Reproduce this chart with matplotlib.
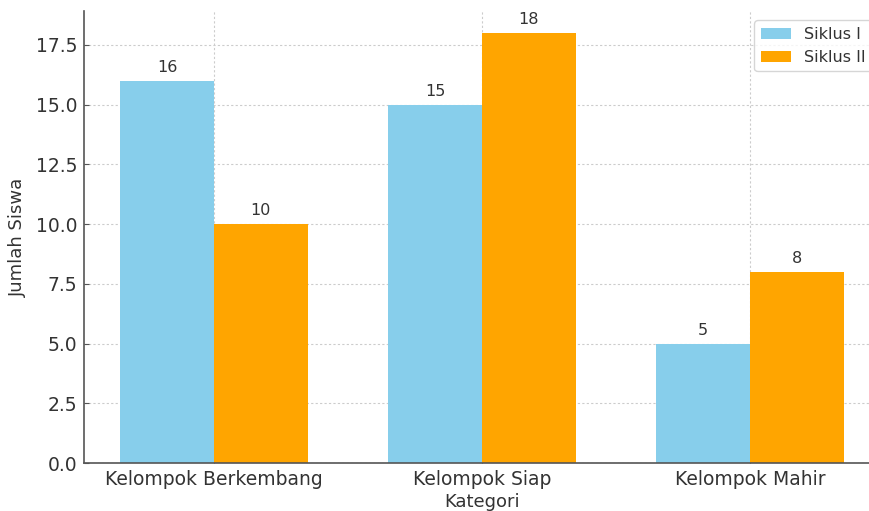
import matplotlib
matplotlib.use("Agg")
import matplotlib.pyplot as plt
import numpy as np

categories = ["Kelompok Berkembang", "Kelompok Siap", "Kelompok Mahir"]
siklus1 = [16, 15, 5]
siklus2 = [10, 18, 8]
series_names = ["Siklus I", "Siklus II"]

plt.rcParams['font.family'] = ['DejaVu Sans']
fig = plt.figure(figsize=(8.69, 5.11), dpi=100)
ax = fig.add_axes([84/869, 48/511, (880-84)/869, (499.5-48)/511])

x = np.arange(len(categories))
w = 0.35
b1 = ax.bar(x - w/2, siklus1, w, color='#87CEEB', label=series_names[0])
b2 = ax.bar(x + w/2, siklus2, w, color='#FFA500', label=series_names[1])

for bars in (b1, b2):
    for r in bars:
        ax.text(r.get_x() + r.get_width()/2, r.get_height() + 0.25, f"{int(r.get_height())}",
                ha='center', va='bottom', fontsize=11.5, color='#333333')

tc = '#333333'
ax.set_xticks(x)
ax.set_xticklabels(categories, fontsize=13.5, color=tc)
ax.tick_params(axis='y', labelsize=13.5, labelcolor=tc, color='#555555', direction='in', pad=5)
ax.tick_params(axis='x', color='#555555', direction='in', pad=5)
ax.set_ylabel("Jumlah Siswa", fontsize=13, color=tc, labelpad=6)
ax.set_xlabel("Kategori", fontsize=13, color=tc, labelpad=3)
ax.grid(True, linestyle=(0, (2, 2)), color='#cccccc', linewidth=0.8)
ax.set_axisbelow(True)
for s in ['top', 'right']:
    ax.spines[s].set_visible(False)
ax.spines['left'].set_color('#555555')
ax.spines['bottom'].set_color('#555555')
ax.spines['left'].set_linewidth(1.2)
ax.spines['bottom'].set_linewidth(1.2)
ax.legend(loc='upper right', fontsize=11.5, labelcolor=tc, handlelength=1.9,
          bbox_to_anchor=(1.0, 0.998))

fig.savefig("out.png", dpi=100)
